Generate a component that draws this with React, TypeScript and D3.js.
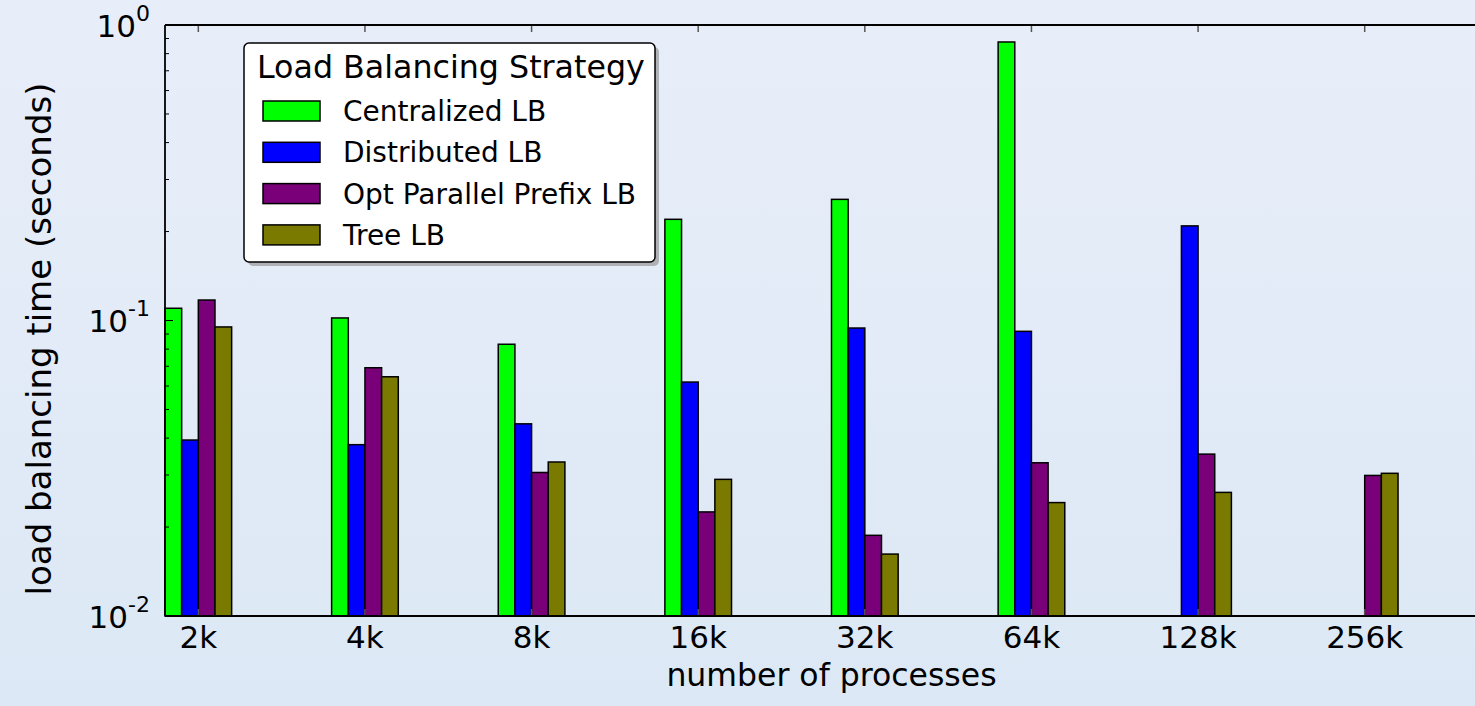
import React from "react";
import * as d3 from "d3";

// Process counts on the x axis
const categories = ["2k", "4k", "8k", "16k", "32k", "64k", "128k", "256k"];

// Load balancing time in seconds per strategy (null = no run)
const centralized: (number | null)[] = [0.110, 0.102, 0.0831, 0.220, 0.257, 0.876, null, null];
const distributed: (number | null)[] = [0.0394, 0.0380, 0.0447, 0.0619, 0.0943, 0.0919, 0.209, null];
const optPrefix: (number | null)[] = [0.1173, 0.0692, 0.0306, 0.0225, 0.01875, 0.0330, 0.0353, 0.0299];
const treeLB: (number | null)[] = [0.0951, 0.0645, 0.0332, 0.0290, 0.0162, 0.0242, 0.0262, 0.0304];

const seriesNames = ["Centralized LB", "Distributed LB", "Opt Parallel Prefix LB", "Tree LB"];
const seriesColors = ["#00ff00", "#0000ff", "#7a007a", "#7a7a00"];
const seriesValues = [centralized, distributed, optPrefix, treeLB];

const yMajorTicks = [0.01, 0.1, 1];
const yExponents = ["-2", "-1", "0"];

const W = 1475;
const H = 706;
const margin = { left: 165, top: 25, bottom: 616, right: 1498 };
const barWidth = 0.1;

const FONT = "'DejaVu Sans', sans-serif";

export default function App() {
  const x = d3.scaleLinear().domain([0, 8]).range([margin.left, margin.right]);
  const y = d3.scaleLog().domain([0.01, 1]).range([margin.bottom, margin.top]);

  const minorTicks: number[] = [];
  for (const base of [0.01, 0.1]) {
    for (let k = 2; k <= 9; k++) minorTicks.push(base * k);
  }

  const legendX = 244;
  const legendY = 43;
  const legendW = 411;
  const legendH = 219;

  return (
    <svg
      width={W}
      height={H}
      style={{ position: "absolute", left: 0, top: 0, display: "block" }}
      fontFamily={FONT}
    >
      <defs>
        <linearGradient id="bg" x1="0" y1="0" x2="0" y2="1">
          <stop offset="0%" stopColor="#e8eef9" />
          <stop offset="100%" stopColor="#dce8f5" />
        </linearGradient>
        <clipPath id="fig">
          <rect x={0} y={0} width={W} height={H} />
        </clipPath>
      </defs>
      <rect x={0} y={0} width={W} height={H} fill="url(#bg)" />

      <g clipPath="url(#fig)">
        {/* bars */}
        {seriesValues.map((vals, si) =>
          vals.map((v, ci) => {
            if (v == null) return null;
            const x0 = x(ci + si * barWidth);
            const x1 = x(ci + (si + 1) * barWidth);
            const yt = y(v);
            return (
              <rect
                key={`${si}-${ci}`}
                x={x0}
                y={yt}
                width={x1 - x0}
                height={y(0.01) - yt}
                fill={seriesColors[si]}
                stroke="#000"
                strokeWidth={1.5}
              />
            );
          })
        )}

        {/* minor y ticks */}
        {minorTicks.map((t) => (
          <line key={`m${t}`} x1={margin.left} x2={margin.left + 4} y1={y(t)} y2={y(t)} stroke="#000" strokeWidth={1} />
        ))}
        {yMajorTicks.map((t) => (
          <line key={`M${t}`} x1={margin.left} x2={margin.left + 8} y1={y(t)} y2={y(t)} stroke="#000" strokeWidth={1} />
        ))}

        {/* x ticks, top and bottom */}
        {categories.map((c, i) => {
          const tx = x(i + 2 * barWidth);
          return (
            <g key={c}>
              <line x1={tx} x2={tx} y1={margin.top} y2={margin.top + 7} stroke="#555" strokeWidth={1.5} />
              <line x1={tx} x2={tx} y1={margin.bottom} y2={margin.bottom - 7} stroke="#555" strokeWidth={1.5} />
              <text x={tx} y={648} textAnchor="middle" fontSize={31} fill="#000">
                {c}
              </text>
            </g>
          );
        })}

        {/* frame */}
        <line x1={margin.left} x2={margin.right} y1={margin.top} y2={margin.top} stroke="#000" strokeWidth={1.8} />
        <line x1={margin.left} x2={margin.right} y1={margin.bottom} y2={margin.bottom} stroke="#000" strokeWidth={1.8} />
        <line x1={margin.left} x2={margin.left} y1={margin.top} y2={margin.bottom} stroke="#000" strokeWidth={1.8} />

        {/* y tick labels */}
        {yMajorTicks.map((t, i) => (
          <text key={`l${t}`} x={150} y={y(t) + 11.5} textAnchor="end" fontSize={31} fill="#000">
            10
            <tspan fontSize={22} dy={-16}>
              {yExponents[i]}
            </tspan>
          </text>
        ))}

        {/* axis labels */}
        <text x={(margin.left + margin.right) / 2} y={686} textAnchor="middle" fontSize={31.5} fill="#000">
          number of processes
        </text>
        <text
          transform="translate(51, 339) rotate(-90)"
          textAnchor="middle"
          fontSize={34}
          fill="#000"
        >
          load balancing time (seconds)
        </text>

        {/* legend */}
        <rect x={legendX + 4} y={legendY + 4} width={legendW} height={legendH} rx={5} fill="#8a8a8a" opacity={0.6} />
        <rect x={legendX} y={legendY} width={legendW} height={legendH} rx={5} fill="#fff" stroke="#000" strokeWidth={1.5} />
        <text x={legendX + 13} y={78} fontSize={31.7} fill="#000">
          Load Balancing Strategy
        </text>
        {seriesNames.map((name, i) => {
          const cy = 111 + i * 41.3;
          return (
            <g key={name}>
              <rect x={263} y={cy - 10} width={57} height={20} fill={seriesColors[i]} stroke="#000" strokeWidth={1.5} />
              <text x={343} y={cy + 10} fontSize={28} fill="#000">
                {name}
              </text>
            </g>
          );
        })}
      </g>
    </svg>
  );
}
